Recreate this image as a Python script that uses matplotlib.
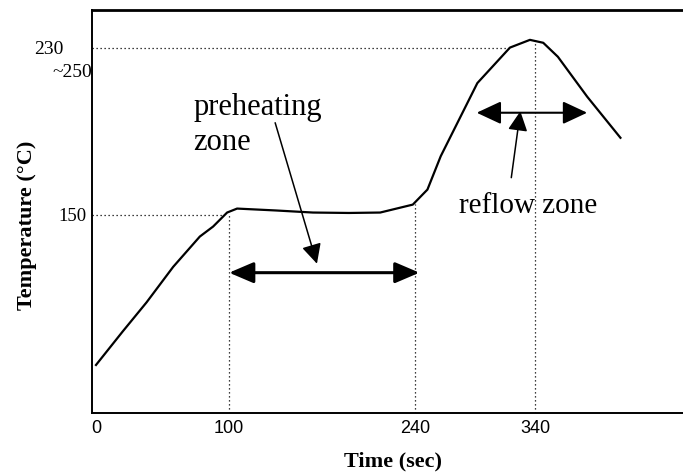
import matplotlib
matplotlib.use("Agg")
import matplotlib.pyplot as plt
import matplotlib.transforms as mtransforms

# ---- data ----
time_s = [0, 20, 38, 58, 78, 88, 98.5, 106, 135, 163, 190, 213.5, 238, 249, 259,
          286.5, 311, 326, 336, 347, 369, 394]
temp_c = [78, 94, 108, 125, 139.5, 144.3, 151, 152.9, 152, 151, 150.8, 151, 154.8,
          162, 178, 213, 230, 233.7, 232.3, 225.6, 206.5, 186.8]

x_tick_pos = [0, 100, 240, 330]
x_tick_labels = ["0", "100", "240", "340"]
y_tick_pos = [150]
y_tick_labels = ["150"]

preheat_start, preheat_end = 100, 240
reflow_start, reflow_end = 286, 369
peak_time, peak_temp = 330, 233.7
soak_temp = 150
reflow_temp = 230

SERIF = ["Liberation Serif", "DejaVu Serif"]
SANS = ["Liberation Sans", "DejaVu Sans"]

fig = plt.figure(figsize=(6.83, 4.73), dpi=100)
ax = fig.add_axes([92 / 683, 60 / 473, 591 / 683, 403 / 473])
ax.set_xlim(-3, 441)
ax.set_ylim(55, 248)

# curve
ax.plot(time_s, temp_c, color="black", lw=1.6, solid_joinstyle="round")

# dotted guide lines
dot = dict(color="black", lw=0.9, linestyle=(0, (1, 2.2)))
ax.plot([-3, 95], [soak_temp, soak_temp], **dot)
ax.plot([-3, 311], [reflow_temp, reflow_temp], **dot)
ax.plot([preheat_start, preheat_start], [55, 151], **dot)
ax.plot([preheat_end, preheat_end], [55, 155], **dot)
ax.plot([peak_time, peak_time], [55, peak_temp], **dot)

# zone arrows
ax.annotate("", xy=(preheat_end + 3, 122.2), xytext=(preheat_start, 122.2),
            arrowprops=dict(arrowstyle="<|-|>,head_length=0.75,head_width=0.32",
                            mutation_scale=20, lw=2.2, color="black",
                            shrinkA=0, shrinkB=0))
ax.annotate("", xy=(reflow_end, 198.8), xytext=(reflow_start, 198.8),
            arrowprops=dict(arrowstyle="<|-|>,head_length=0.75,head_width=0.35",
                            mutation_scale=20, lw=1.5, color="black",
                            shrinkA=0, shrinkB=0))
# pointers
ax.annotate("", xy=(166, 126.5), xytext=(134.6, 194),
            arrowprops=dict(arrowstyle="-|>,head_length=0.6,head_width=0.3",
                            mutation_scale=20, lw=1.1, color="black",
                            shrinkA=0, shrinkB=0))
ax.annotate("", xy=(318.8, 199.5), xytext=(312, 167.7),
            arrowprops=dict(arrowstyle="-|>,head_length=0.6,head_width=0.3",
                            mutation_scale=20, lw=1.1, color="black",
                            shrinkA=0, shrinkB=0))

# texts
ax.text(73, 197.8, "preheating", family=SERIF, fontsize=22, va="baseline", ha="left")
ax.text(73, 181.1, "zone", family=SERIF, fontsize=22, va="baseline", ha="left")
ax.text(272.4, 151, "reflow zone", family=SERIF, fontsize=21, va="baseline", ha="left")

# axes styling
for s in ("right",):
    ax.spines[s].set_visible(False)
ax.spines["top"].set_linewidth(2.0)
ax.spines["left"].set_linewidth(1.4)
ax.spines["bottom"].set_linewidth(1.4)

ax.set_xticks(x_tick_pos, x_tick_labels)
ax.set_yticks(y_tick_pos, y_tick_labels)
ax.tick_params(axis="both", length=0)
ax.tick_params(axis="x", pad=5)
ax.tick_params(axis="y", pad=4)
for lbl in ax.get_xticklabels():
    lbl.set_family(SANS)
    lbl.set_fontsize(13)
for lbl in ax.get_yticklabels():
    lbl.set_family(SERIF)
    lbl.set_fontsize(13.5)

trans = mtransforms.blended_transform_factory(ax.transAxes, ax.transData)
ax.text(-0.049, 229, "230", transform=trans, family=SERIF, fontsize=14,
        ha="right", va="center")
ax.text(0.0, 218.0, "~250", transform=trans, family=SERIF, fontsize=14,
        ha="right", va="center")

ax.set_xlabel("Time (sec)", family=SERIF, fontsize=16, fontweight="bold", labelpad=6)
ax.xaxis.set_label_coords(0.51, -0.095)
ax.set_ylabel("Temperature (°C)", family=SERIF, fontsize=16, fontweight="bold")
ax.yaxis.set_label_coords(-0.093, 0.466)

fig.savefig("out.png", dpi=100)
